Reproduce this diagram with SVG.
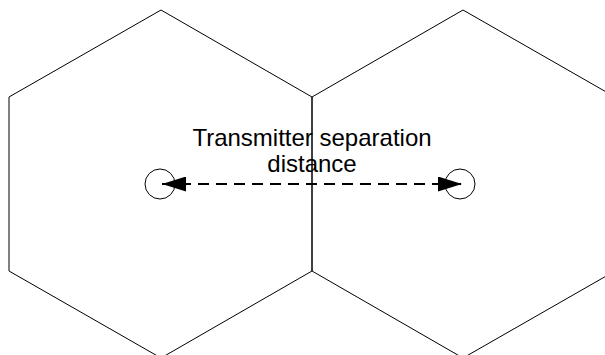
<svg xmlns="http://www.w3.org/2000/svg" width="605" height="355" viewBox="0 0 605 355">
<style>
.cell{fill:none;stroke:#000;stroke-width:1}
.tx{fill:#fff;stroke:#000;stroke-width:1}
.lbl{font-family:"Liberation Sans",Arial,sans-serif;font-size:24px;fill:#000;text-anchor:middle}
.conn{stroke:#000;stroke-width:2;stroke-dasharray:11 7;fill:none}
</style>
<defs>
<marker id="ah" viewBox="0 0 24 15" refX="24" refY="7.5" markerWidth="24" markerHeight="15" markerUnits="userSpaceOnUse" orient="auto-start-reverse">
<path d="M0,0 L24,7.5 L0,15 Z" fill="#000"/>
</marker>
</defs>
<g id="cell-left"><polygon class="cell" points="161,10 312,97 312,271 161,358 9,271 9,97"/></g>
<g id="cell-right"><polygon class="cell" points="463,10 615,97 615,271 463,358 312,271 312,97"/></g>
<g id="tx-left"><circle class="tx" cx="160" cy="184" r="15"/></g>
<g id="tx-right"><circle class="tx" cx="460" cy="184" r="15"/></g>
<g id="connectors">
<line class="conn" x1="162" y1="184" x2="462" y2="184" marker-start="url(#ah)" marker-end="url(#ah)"/>
</g>
<g id="label">
<text class="lbl" x="312" y="146">Transmitter separation</text>
<text class="lbl" x="312" y="172">distance</text>
</g>
</svg>
